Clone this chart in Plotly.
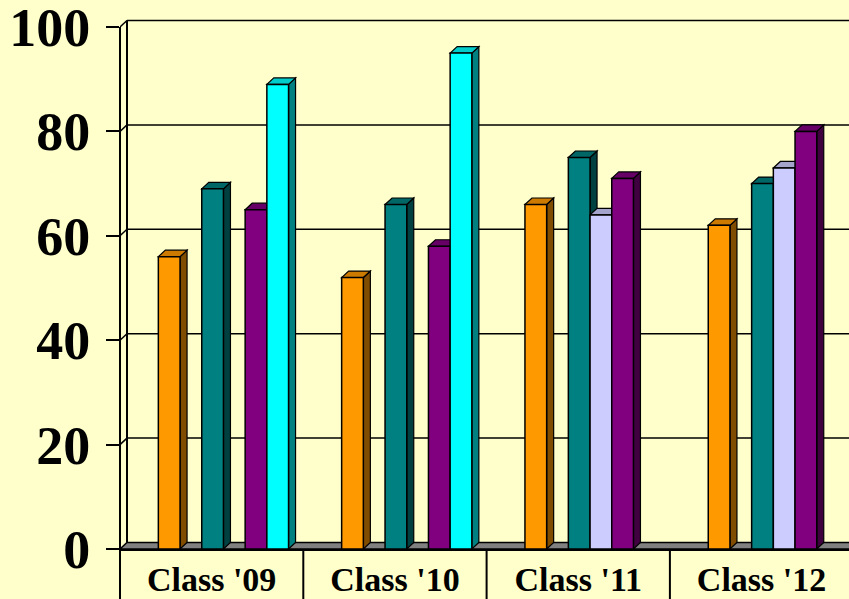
import plotly.graph_objects as go

# ---- data ----
categories = ["Class '09", "Class '10", "Class '11", "Class '12"]
orange_vals = [56, 52, 66, 62]
teal_vals = [69, 66, 75, 70]
lavender_vals = [None, None, 64, 73]
purple_vals = [65, 58, 71, 80]
cyan_vals = [89, 95, None, None]
y_ticks = [0, 20, 40, 60, 80, 100]

# ---- layout geometry ----
W, H = 849, 599
ML, MR, MT, MB = 120, 0, 10, 50
PX_PER_CAT = 183.3
PX_PER_UNIT = 5.22
plot_w = W - ML - MR
plot_h = H - MT - MB
x_range = [-0.5, -0.5 + plot_w / PX_PER_CAT]
y_range = [0, plot_h / PX_PER_UNIT]
DX = 7 / PX_PER_CAT      # depth offset (x) in data units
DY = 6.5 / PX_PER_UNIT   # depth offset (y) in data units
SLOT = 21.7 / PX_PER_CAT
START = -53.3 / PX_PER_CAT

# name, values, slot index, front, side, top
series = [
    ("Series 1", orange_vals, 0, "#FF9900", "#7F4C00", "#CC7A00"),
    ("Series 2", teal_vals, 2, "#008080", "#004040", "#006666"),
    ("Series 3", lavender_vals, 3, "#CCCCFF", "#666680", "#A3A3CC"),
    ("Series 4", purple_vals, 4, "#800080", "#400040", "#660066"),
    ("Series 5", cyan_vals, 5, "#00FFFF", "#008080", "#00CCCC"),
]

cat_idx = list(range(len(categories)))
fig = go.Figure()
for name, vals, k, front, side, top in series:
    fig.add_trace(go.Bar(
        x=cat_idx, y=vals, name=name,
        offset=START + k * SLOT, width=SLOT,
        marker=dict(color=front, line=dict(color="black", width=1.5)),
        showlegend=False,
    ))

shapes = []
xr_end = x_range[1] + 0.2
# back wall gridlines and left wall diagonals
for t in y_ticks[1:]:
    shapes.append(dict(type="line", xref="x", yref="y", x0=-0.5 + DX, x1=xr_end,
                       y0=t + DY, y1=t + DY, line=dict(color="black", width=1.5), layer="below"))
    shapes.append(dict(type="line", xref="x", yref="y", x0=-0.5, x1=-0.5 + DX,
                       y0=t, y1=t + DY, line=dict(color="black", width=1.5), layer="below"))
# back-left vertical edge
shapes.append(dict(type="line", xref="x", yref="y", x0=-0.5 + DX, x1=-0.5 + DX,
                   y0=DY, y1=y_ticks[-1] + DY, line=dict(color="black", width=2), layer="below"))
# floor
shapes.append(dict(type="path", xref="x", yref="y",
                   path=f"M{-0.5},0 L{-0.5 + DX},{DY} L{xr_end},{DY} L{xr_end},0 Z",
                   fillcolor="#808080", line=dict(color="black", width=1.5), layer="below"))
# 3D side and top faces, painted left to right
for i in cat_idx:
    for name, vals, k, front, side, top in sorted(series, key=lambda s: s[2]):
        v = vals[i]
        if v is None:
            continue
        xl = i + START + k * SLOT
        xr = xl + SLOT
        shapes.append(dict(type="path", xref="x", yref="y",
                           path=f"M{xr},0 L{xr},{v} L{xr + DX},{v + DY} L{xr + DX},{DY} Z",
                           fillcolor=side, line=dict(color="black", width=1.2), layer="below"))
        shapes.append(dict(type="path", xref="x", yref="y",
                           path=f"M{xl},{v} L{xr},{v} L{xr + DX},{v + DY} L{xl + DX},{v + DY} Z",
                           fillcolor=top, line=dict(color="black", width=1.2), layer="below"))
# front-left wall edge (continues down as first category separator)
sep_bottom = -MB / plot_h
top_frac = y_ticks[-1] / y_range[1]
shapes.append(dict(type="line", xref="paper", yref="paper", x0=0, x1=0,
                   y0=sep_bottom, y1=top_frac, line=dict(color="black", width=2)))
# category separators below axis
for b in [i + 0.5 for i in cat_idx]:
    shapes.append(dict(type="line", xref="x", yref="paper", x0=b, x1=b,
                       y0=sep_bottom, y1=0, line=dict(color="black", width=2)))

fig.update_layout(
    width=W, height=H,
    margin=dict(l=ML, r=MR, t=MT, b=MB, pad=0),
    paper_bgcolor="#FFFFCC", plot_bgcolor="#FFFFCC",
    barmode="overlay",
    shapes=shapes,
    xaxis=dict(range=x_range, tickmode="array", tickvals=cat_idx, ticktext=categories,
               ticks="", showgrid=False, zeroline=False, automargin=False,
               showline=True, linecolor="black", linewidth=2,
               tickfont=dict(family="Liberation Serif", size=34, color="black", weight="bold"),
               ticklabelstandoff=-1, ticklabeloverflow="allow"),
    yaxis=dict(range=y_range, tickmode="array", tickvals=y_ticks, automargin=False,
               ticks="outside", ticklen=13, tickwidth=2, tickcolor="black",
               showgrid=False, zeroline=False, showline=False,
               tickfont=dict(family="Liberation Serif", size=54, color="black", weight="bold"),
               ticklabelstandoff=5, ticklabeloverflow="allow"),
)

fig.write_html(
    "out.html",
    config={"displayModeBar": False},
    post_script="document.body.style.margin='0';document.body.style.background='#FFFFCC';",
)
